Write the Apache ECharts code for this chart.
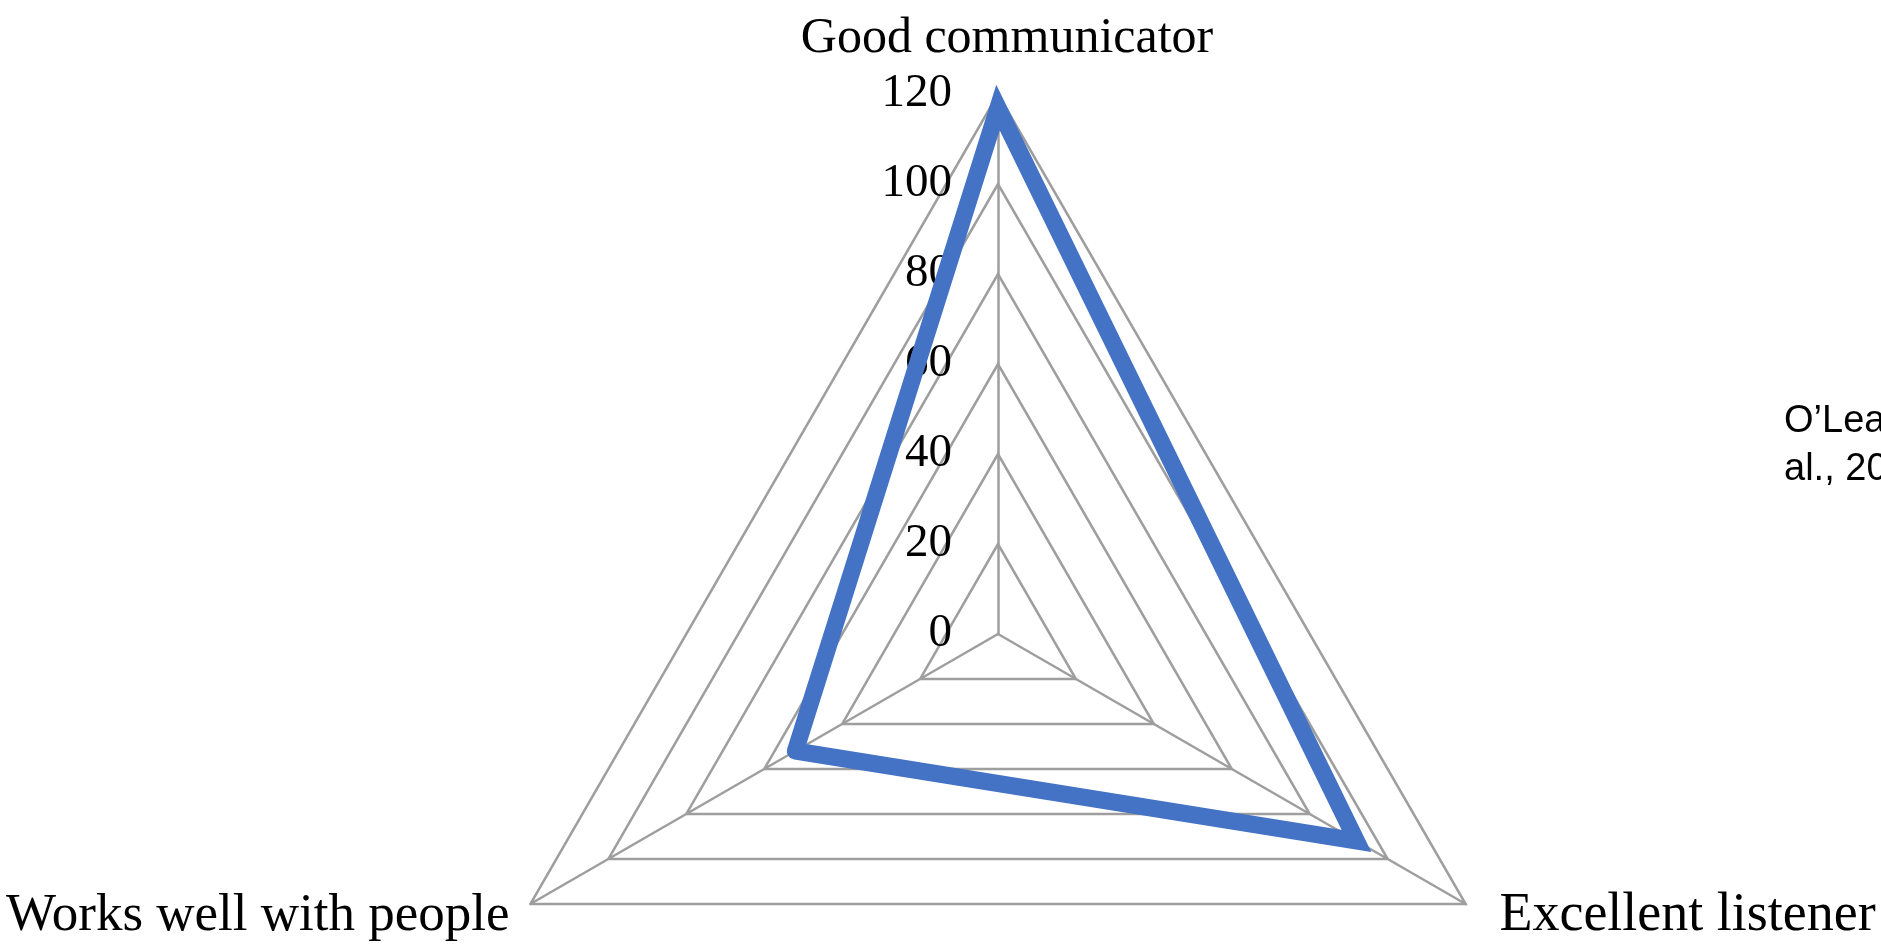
<!DOCTYPE html>
<html>
<head>
<meta charset="utf-8">
<script src="https://cdn.jsdelivr.net/npm/echarts@6/dist/echarts.min.js"></script>
<style>
  html, body { margin: 0; padding: 0; background: #fff; }
  #chart { width: 1881px; height: 949px; }
</style>
</head>
<body>
<div id="chart"></div>
<script>
// 三个维度 + 分数（从左下开始逆时针，这样顶点处线条是尖角）
const skills = ['Works well with people', 'Excellent listener', 'Good communicator'];
const scores = [52, 92, 117];
const axisMax = 120;
const axisSteps = 6;   // 0,20,...,120
const sourceNote = ['O’Lea', 'al., 20'];

const serif = 'Liberation Serif';
const gridGray = '#9e9e9e';

// 每个名字单独微调；刻度数字只放在顶上那根轴
const nameStyles = [
  { verticalAlign: 'middle', fontSize: 53 },
  { verticalAlign: 'middle', fontSize: 54, padding: [0, 0, 0, 13] },
  { padding: [0, 0, 6, 18] }
];

const indicator = skills.map(function (name, i) {
  const item = { name: name, max: axisMax, min: 0, nameTextStyle: nameStyles[i] };
  if (name === 'Good communicator') {
    item.axisLabel = {
      show: true,
      color: '#000',
      fontFamily: serif,
      fontSize: 47,
      margin: 46,
      align: 'right',
      verticalAlign: 'middle',
      padding: [0, 0, 8, 0]
    };
  }
  return item;
});

let myChart = echarts.init(document.getElementById('chart'));
myChart.setOption({
  animation: false,
  backgroundColor: '#fff',
  title: {
    text: sourceNote.join('\n'),
    left: 1779,
    top: 393,
    textStyle: {
      fontFamily: 'Liberation Sans',
      fontSize: 38,
      fontWeight: 'normal',
      lineHeight: 48,
      color: '#000'
    }
  },
  radar: {
    center: [998, 634],
    radius: 540,
    startAngle: 210,
    shape: 'polygon',
    splitNumber: axisSteps,
    axisNameGap: 24,
    axisName: {
      color: '#000',
      fontFamily: serif,
      fontSize: 50
    },
    axisLine: { lineStyle: { color: gridGray, width: 2.5 } },
    splitLine: { lineStyle: { color: gridGray, width: 2.5 } },
    splitArea: { show: false },
    axisTick: { show: false },
    indicator: indicator
  },
  series: [
    {
      type: 'radar',
      symbol: 'none',
      lineStyle: { color: '#4472C4', width: 17, join: 'miter', cap: 'round' },
      itemStyle: { color: '#4472C4' },
      data: [{ value: scores, name: 'Score' }]
    }
  ]
});
</script>
</body>
</html>
